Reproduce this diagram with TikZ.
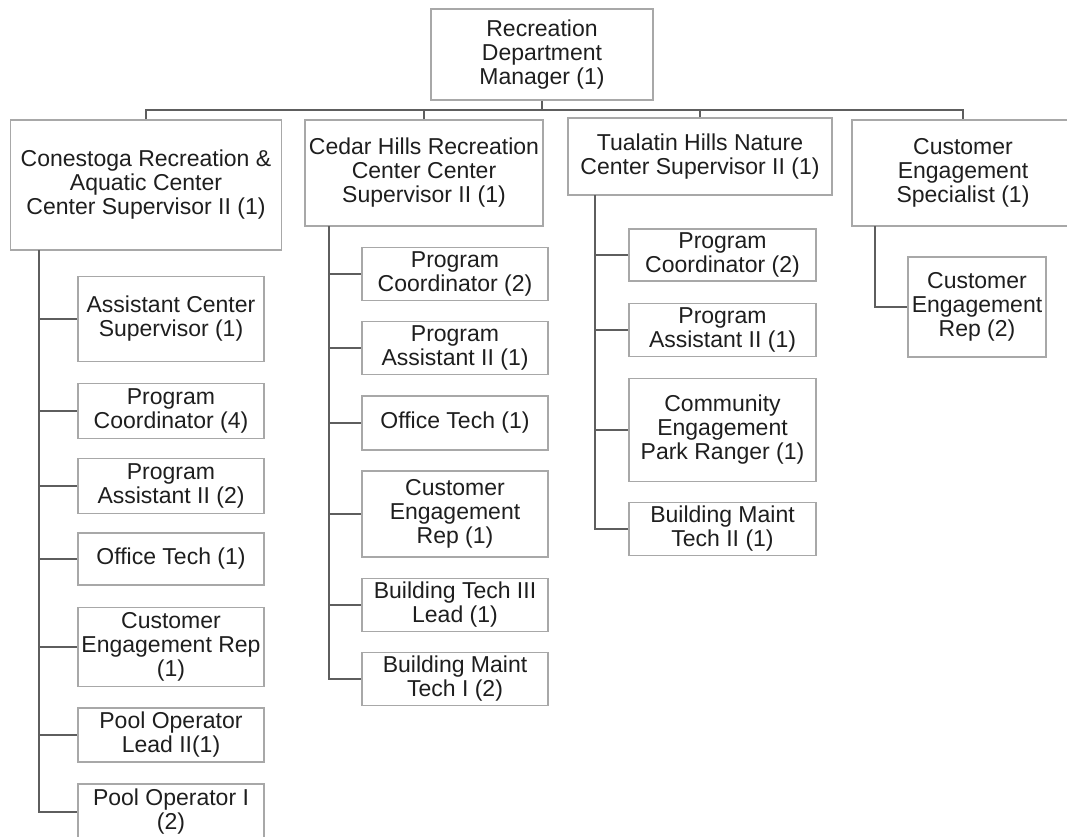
\documentclass[tikz,border=0pt]{standalone}
\usepackage{fontspec}
\setmainfont{Liberation Sans}
\definecolor{boxline}{HTML}{A8A8A8}
\definecolor{conline}{HTML}{5E5E5E}
\definecolor{txt}{HTML}{1E1E1E}
\begin{document}
\begin{tikzpicture}[x=1pt,y=-1pt,
  box/.style={draw=boxline, line width=1.5pt, rectangle, inner sep=0pt, align=center,
    text=txt, font=\fontsize{23}{24}\selectfont},
  link/.style={draw=conline, line width=2pt}]
\useasboundingbox (0,0) rectangle (1067,836);
% top
\node[box, minimum width=222pt, minimum height=91pt] (top) at (542,54.5) {Recreation\\Department\\Manager (1)};
% level 1
\node[box, minimum width=271pt, minimum height=130pt] (con) at (146,185) {Conestoga Recreation \&\\Aquatic Center\\Center Supervisor II (1)};
\node[box, minimum width=238pt, minimum height=106pt] (ced) at (424,173) {Cedar Hills Recreation\\Center Center\\Supervisor II (1)};
\node[box, minimum width=264pt, minimum height=77pt] (tua) at (700,156.5) {Tualatin Hills Nature\\Center Supervisor II (1)};
\node[box, minimum width=222pt, minimum height=106pt] (ces) at (963,173) {Customer\\Engagement\\Specialist (1)};
% bus
\coordinate (bus) at (0,110);
\draw[link] (top.south) -- (top.south |- bus);
\draw[link] (con.north) -- (con.north |- bus) -- (ces.north |- bus) -- (ces.north);
\draw[link] (ced.north) -- (ced.north |- bus);
\draw[link] (tua.north) -- (tua.north |- bus);
% Conestoga children
\node[box, minimum width=186pt, minimum height=85pt] (a1) at (171,319) {Assistant Center\\Supervisor (1)};
\node[box, minimum width=186pt, minimum height=55pt] (a2) at (171,411) {Program\\Coordinator (4)};
\node[box, minimum width=186pt, minimum height=55pt] (a3) at (171,486) {Program\\Assistant II (2)};
\node[box, minimum width=186pt, minimum height=52pt] (a4) at (171,559) {Office Tech (1)};
\node[box, minimum width=186pt, minimum height=79pt] (a5) at (171,647) {Customer\\Engagement Rep\\(1)};
\node[box, minimum width=186pt, minimum height=54pt] (a6) at (171,735) {Pool Operator\\Lead II(1)};
\node[box, minimum width=186pt, minimum height=56pt] (a7) at (171,812) {Pool Operator I\\(2)};
\coordinate (sa) at (39,250);
\foreach \n in {a1,a2,a3,a4,a5,a6,a7} \draw[link] (sa) |- (\n.west);
% Cedar children
\node[box, minimum width=186pt, minimum height=53pt] (b1) at (455,274) {Program\\Coordinator (2)};
\node[box, minimum width=186pt, minimum height=53pt] (b2) at (455,348) {Program\\Assistant II (1)};
\node[box, minimum width=186pt, minimum height=54pt] (b3) at (455,423) {Office Tech (1)};
\node[box, minimum width=186pt, minimum height=86pt] (b4) at (455,514) {Customer\\Engagement\\Rep (1)};
\node[box, minimum width=186pt, minimum height=53pt] (b5) at (455,605) {Building Tech III\\Lead (1)};
\node[box, minimum width=186pt, minimum height=53pt] (b6) at (455,679) {Building Maint\\Tech I (2)};
\coordinate (sb) at (329,226);
\foreach \n in {b1,b2,b3,b4,b5,b6} \draw[link] (sb) |- (\n.west);
% Tualatin children
\node[box, minimum width=187pt, minimum height=52pt] (c1) at (722.5,255) {Program\\Coordinator (2)};
\node[box, minimum width=187pt, minimum height=53pt] (c2) at (722.5,330) {Program\\Assistant II (1)};
\node[box, minimum width=187pt, minimum height=103pt] (c3) at (722.5,430) {Community\\Engagement\\Park Ranger (1)};
\node[box, minimum width=187pt, minimum height=53pt] (c4) at (722.5,529) {Building Maint\\Tech II (1)};
\coordinate (sc) at (595,195);
\foreach \n in {c1,c2,c3,c4} \draw[link] (sc) |- (\n.west);
% CES child
\node[box, minimum width=138pt, minimum height=100pt] (d1) at (977,307) {Customer\\Engagement\\Rep (2)};
\coordinate (sd) at (875,226);
\draw[link] (sd) |- (d1.west);
\end{tikzpicture}
\end{document}
